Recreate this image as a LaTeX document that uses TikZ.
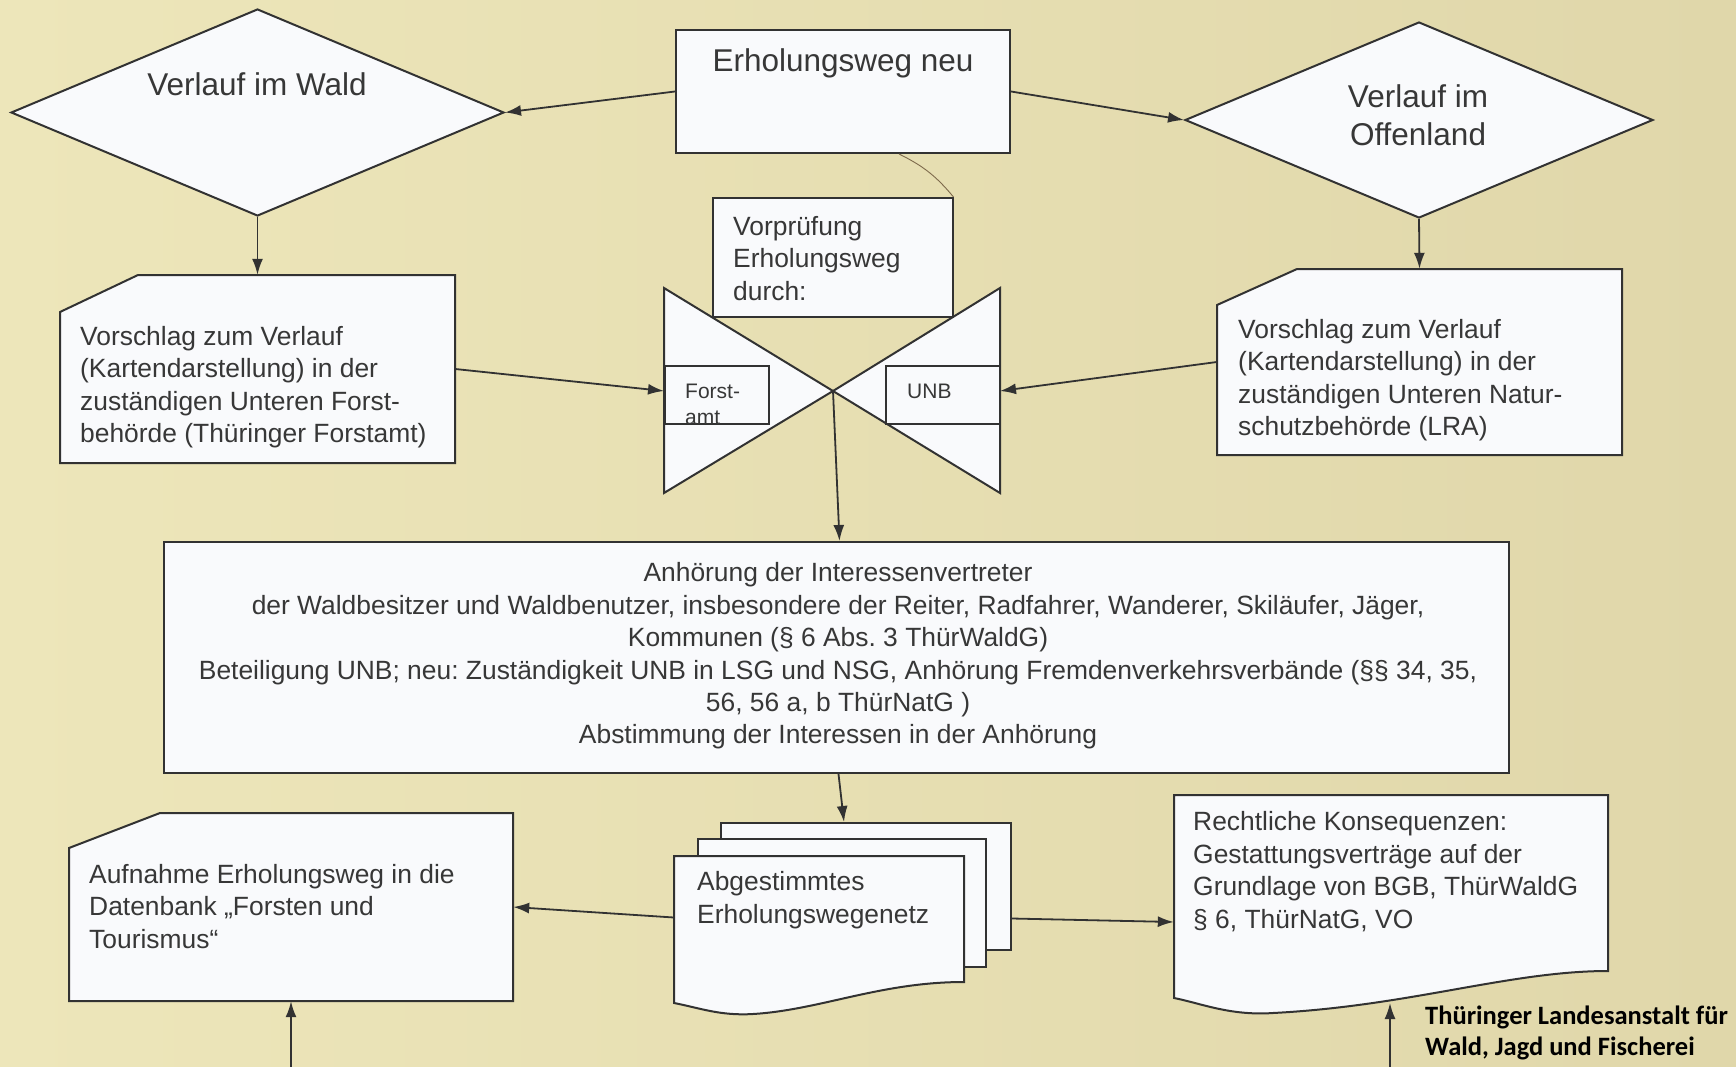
\documentclass[tikz,border=0pt]{standalone}
\usepackage{fontspec}
\setmainfont{Liberation Sans}
\newfontfamily\stampfont{Carlito}
\usetikzlibrary{arrows.meta,calc,shapes.geometric}
\definecolor{bgL}{RGB}{237,230,186}
\definecolor{bgR}{RGB}{224,215,170}
\definecolor{boxC}{RGB}{249,250,252}
\definecolor{lineC}{RGB}{50,50,50}
\definecolor{textC}{RGB}{55,55,55}
\definecolor{hairC}{RGB}{125,105,75}
\newcommand\bodyfont{\fontsize{26.4}{32.4}\selectfont}
\newcommand\titlefont{\fontsize{31.5}{38}\selectfont}
\newcommand\smallfont{\fontsize{21}{26}\selectfont}
\newcommand\stampfnt{\stampfont\bfseries\fontsize{26.5}{31}\selectfont}
\frenchspacing
\begin{document}
\begin{tikzpicture}[x=1pt,y=-1pt,
  shp/.style={draw=lineC, fill=boxC, line width=2pt, line join=miter},
  rbox/.style={shp, rectangle, inner sep=0pt},
  ghost/.style={rectangle, inner sep=0pt, draw=none},
  dia/.style={shp, diamond, inner sep=0pt},
  txt/.style={text=textC, inner sep=0pt, align=left, font=\bodyfont},
  ttl/.style={text=textC, inner sep=0pt, font=\titlefont},
  arr/.style={draw=lineC, line width=1.8pt, -{Latex[length=16pt,width=11pt]}},
  hair/.style={draw=hairC, line width=0.9pt}
]
\useasboundingbox (0,0) rectangle (1736,1067);
\shade[left color=bgL, right color=bgR] (0,0) rectangle (1736,1067);

% top row
\node[dia, minimum width=493pt, minimum height=207pt] (dw) at (257.5,112.5) {};
\node[ttl, anchor=base] (dwt) at (257,96) {Verlauf im Wald};
\node[rbox, minimum width=334pt, minimum height=123pt] (erh) at (843,91.5) {};
\node[ttl, anchor=base] (erht) at (843,72) {Erholungsweg neu};
\node[dia, minimum width=468pt, minimum height=196pt] (dO) at (1419,120) {};
\node[ttl, align=center, anchor=north] (dOt) at (1418,84) {Verlauf im\\Offenland};

% left proposal
\node[ghost, minimum width=395pt, minimum height=188pt] (vl) at (257.5,369) {};
\path[shp] (138,275) -- (455,275) -- (455,463) -- (60,463) -- (60,312) -- cycle;
\node[txt, anchor=north west] (vlt) at (80,326) {Vorschlag zum Verlauf\\(Kartendarstellung) in der\\zuständigen Unteren Forst-\\behörde (Thüringer Forstamt)};

% right proposal
\node[ghost, minimum width=405pt, minimum height=186pt] (vr) at (1419.5,362) {};
\path[shp] (1297,269) -- (1622,269) -- (1622,455) -- (1217,455) -- (1217,305) -- cycle;
\node[txt, anchor=north west] (vrt) at (1238,319) {Vorschlag zum Verlauf\\(Kartendarstellung) in der\\zuständigen Unteren Natur-\\schutzbehörde (LRA)};

% bow tie
\path[shp] (664,288) -- (833,391) -- (664,493) -- cycle;
\path[shp] (1000,288) -- (833,391) -- (1000,493) -- cycle;
\coordinate (bow) at (833,391);
\coordinate (triL) at (664,391);
\coordinate (triR) at (1000,391);
\node[rbox, minimum width=104pt, minimum height=58pt] (fa) at (717,395) {};
\node[rbox, minimum width=114pt, minimum height=58pt] (unb) at (943,395) {};
\node[text=textC, font=\smallfont, align=left, inner sep=0pt, anchor=north west] (fat) at (685,383.5) {Forst-\\amt};
\node[text=textC, font=\smallfont, inner sep=0pt, anchor=base west] (unbt) at (907,398.5) {UNB};
\node[rbox, minimum width=240pt, minimum height=119pt] (vorp) at (832.5,257.5) {};
\node[txt, anchor=north west] (vorpt) at (733,216) {Vorprüfung\\Erholungsweg\\durch:};

% hearing
\node[rbox, minimum width=1345pt, minimum height=231pt] (anh) at (836.5,657.5) {};
\node[txt, align=center, anchor=north] (anht) at (838,562.6) {Anhörung der Interessenvertreter\\der Waldbesitzer und Waldbenutzer, insbesondere der Reiter, Radfahrer, Wanderer, Skiläufer, Jäger,\\Kommunen (§ 6 Abs. 3 ThürWaldG)\\Beteiligung UNB; neu: Zuständigkeit UNB in LSG und NSG, Anhörung Fremdenverkehrsverbände (§§ 34, 35,\\56, 56 a, b ThürNatG )\\Abstimmung der Interessen in der Anhörung};

% stack
\node[rbox, minimum width=290pt, minimum height=127pt] (sb) at (866,886.5) {};
\node[rbox, minimum width=288pt, minimum height=128pt] (sm) at (842,903) {};
\node[ghost, minimum width=290pt, minimum height=147pt] (sf) at (819,929.5) {};
\path[shp] (674,856) -- (964,856) -- (964,982) .. controls (880,982) and (820,1010) .. (753,1014) .. controls (720,1016) and (700,1008) .. (674,1003) -- cycle;
\node[txt, anchor=north west] (sft) at (697,871.6) {Abgestimmtes\\Erholungswegenetz};

% database
\node[ghost, minimum width=444pt, minimum height=188pt] (auf) at (291,907) {};
\path[shp] (160,813) -- (513,813) -- (513,1001) -- (69,1001) -- (69,848) -- cycle;
\node[txt, anchor=north west] (auft) at (89,864) {Aufnahme Erholungsweg in die\\Datenbank „Forsten und\\Tourismus“};

% legal
\node[ghost, minimum width=434pt, minimum height=203pt] (rk) at (1391,896.5) {};
\path[shp] (1174,795) -- (1608,795) -- (1608,971) .. controls (1510,971) and (1410,1006) .. (1273,1013) .. controls (1230,1016) and (1200,1003) .. (1174,998) -- cycle;
\node[txt, anchor=north west] (rkt) at (1193,811.6) {Rechtliche Konsequenzen:\\Gestattungsverträge auf der\\Grundlage von BGB, ThürWaldG\\§ 6, ThürNatG, VO};

\coordinate (aufin) at (291,1075);
\coordinate (rkin) at (1390,1075);
\coordinate (rktip) at (1390,1003);

% connectors
\draw[arr] (erh.west) -- (dw.east);
\draw[arr] (erh.east) -- (dO.west);
\draw[arr] (dw.south) -- (vl.north);
\draw[arr] (dO.south) -- (vr.north);
\draw[arr] (vl.east) -- (triL);
\draw[arr] (vr.west) -- (triR);
\draw[arr] (bow) -- ([xshift=3pt]anh.north);
\draw[arr] ([xshift=2pt]anh.south) -- ([xshift=-22pt]sb.north);
\draw[arr] ([yshift=12pt]sf.west) -- (auf.east);
\draw[arr] ([yshift=-32pt]sb.east) -- ([yshift=-25.5pt]rk.west);
\draw[arr] (aufin) -- (auf.south);
\draw[arr] (rkin) -- (rktip);
\draw[hair] ([xshift=56pt]erh.south) to[bend left=12] (vorp.north east);

% stamp
\node[anchor=north west, inner sep=0pt, align=left, font=\stampfnt, text=black] (stamp) at (1425,1005.7) {Thüringer Landesanstalt für\\Wald, Jagd und Fischerei};
\end{tikzpicture}
\end{document}
